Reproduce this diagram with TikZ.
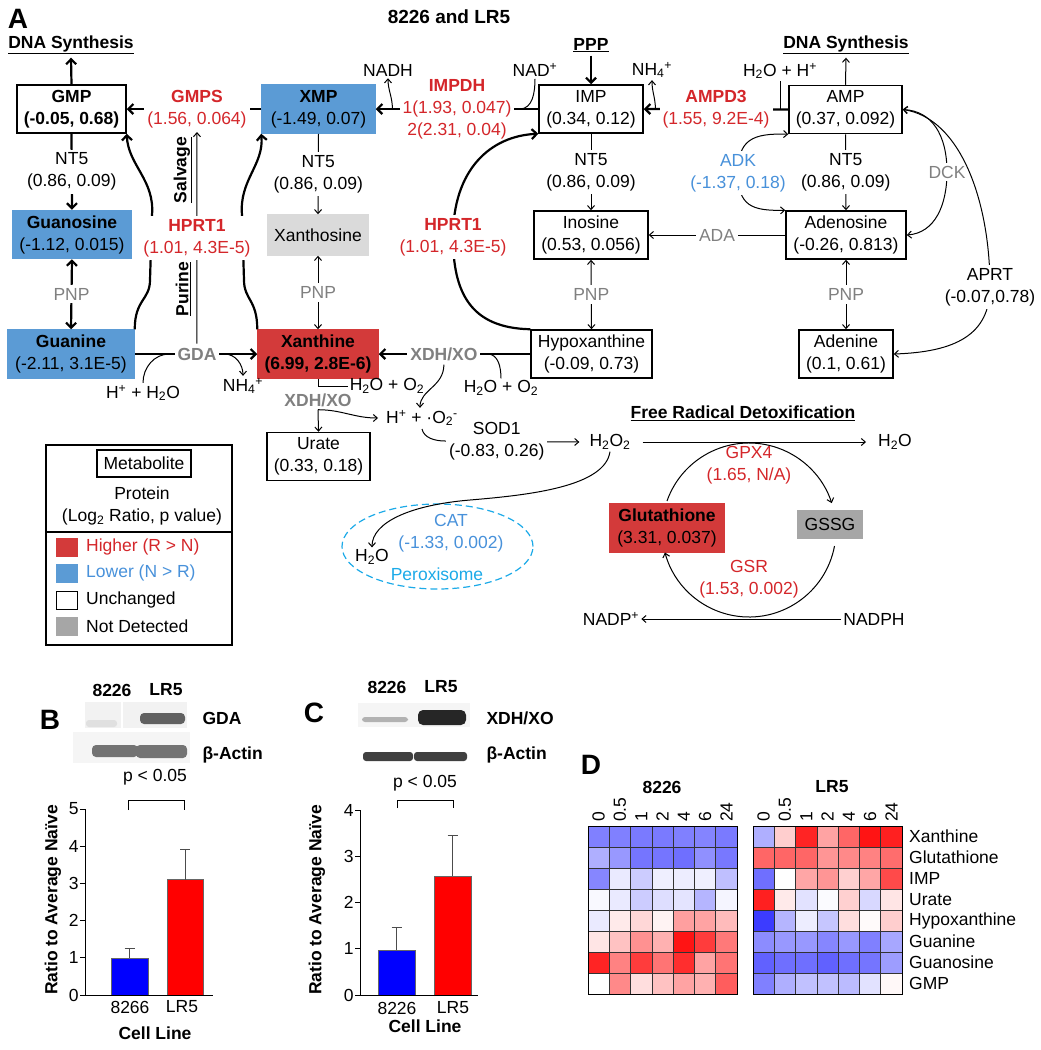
\documentclass[tikz,border=0pt]{standalone}
\usepackage{fontspec}
\setmainfont{Liberation Sans}
\usetikzlibrary{arrows.meta}

\definecolor{loblue}{RGB}{91,155,213}
\definecolor{hired}{RGB}{211,58,58}
\definecolor{upred}{RGB}{212,38,42}
\definecolor{dnblue}{RGB}{72,145,218}
\definecolor{grtext}{RGB}{128,128,128}
\definecolor{ndlight}{RGB}{218,218,218}
\definecolor{ndgray}{RGB}{166,166,166}
\definecolor{perox}{RGB}{28,170,232}
\definecolor{hmblue}{RGB}{60,60,255}
\definecolor{hmred}{RGB}{255,20,20}

\newcommand{\mainsize}{\fontsize{17.5}{22}\selectfont}
\newcommand{\panelsize}{\fontsize{28}{30}\selectfont}

\tikzset{
  met/.style={draw, line width=1.5pt, fill=white, align=center, minimum height=48, inner sep=2pt},
  hibox/.style={met, fill=hired, draw=hired},
  lobox/.style={met, fill=loblue, draw=loblue},
  ndbox/.style={met, fill=ndlight, draw=ndlight},
  enz/.style={fill=white, align=center, inner sep=3pt},
  upenz/.style={enz, text=upred},
  dnenz/.style={enz, text=dnblue},
  grenz/.style={enz, text=grtext},
  chem/.style={inner sep=2pt},
  hdr/.style={font=\mainsize\bfseries},
  thk/.style={line width=2.2pt, -{Straight Barb[length=5pt,width=10pt]}},
  thkboth/.style={line width=2.2pt, {Straight Barb[length=5pt,width=10pt]}-{Straight Barb[length=5pt,width=10pt]}},
  thn/.style={line width=1pt, -{Straight Barb[length=4pt,width=7pt]}},
  thnboth/.style={line width=1pt, {Straight Barb[length=4pt,width=7pt]}-{Straight Barb[length=4pt,width=7pt]}},
  thnl/.style={line width=1pt},
}

\begin{document}
\begin{tikzpicture}[x=1pt, y=-1pt, font=\mainsize]
    \useasboundingbox (0,0) rectangle (1041,1050);
    % headings
    \node[font=\panelsize\bfseries] (lblA) at (18,19) {A};
    \node[font=\fontsize{19}{22}\selectfont\bfseries] (ttl) at (449,17) {8226 and LR5};
    \node[hdr] (dnaL) at (71,45) {\underline{DNA Synthesis}};
    \node[hdr] (ppp) at (591,45) {\underline{PPP}};
    \node[hdr] (dnaR) at (846,45) {\underline{DNA Synthesis}};
    \node[hdr, rotate=90] (salv) at (183,170) {\underline{Salvage}};
    \node[hdr, rotate=90] (pur) at (183,289) {\underline{Purine}};
    \node[hdr] (frd) at (743,413) {\underline{Free Radical Detoxification}};
    % metabolites
    \node[met, minimum width=109] (gmp) at (71.5,109) {\textbf{GMP}\\\textbf{(-0.05, 0.68)}};
    \node[lobox, minimum width=113] (xmp) at (318.5,109) {\textbf{XMP}\\(-1.49, 0.07)};
    \node[met, minimum width=104] (imp) at (591,109) {IMP\\(0.34, 0.12)};
    \node[met, minimum width=113] (amp) at (845.5,109.5) {AMP\\(0.37, 0.092)};
    \node[lobox, minimum width=118] (guanosine) at (72,234.5) {\textbf{Guanosine}\\(-1.12, 0.015)};
    \node[ndbox, minimum width=100, minimum height=40] (xanthosine) at (318,235) {Xanthosine};
    \node[met, minimum width=114] (inosine) at (591,235) {Inosine\\(0.53, 0.056)};
    \node[met, minimum width=120] (adenosine) at (846,235) {Adenosine\\(-0.26, 0.813)};
    \node[lobox, minimum width=126] (guanine) at (71,354) {\textbf{Guanine}\\(-2.11, 3.1E-5)};
    \node[hibox, minimum width=120] (xanthine) at (318,354) {\textbf{Xanthine}\\\textbf{(6.99, 2.8E-6)}};
    \node[met, minimum width=121] (hypox) at (591.5,354) {Hypoxanthine\\(-0.09, 0.73)};
    \node[met, minimum width=94] (adenine) at (846,354) {Adenine\\(0.1, 0.61)};
    \node[met, minimum width=103] (urate) at (318.5,456.5) {Urate\\(0.33, 0.18)};
    \node[hibox, minimum width=114] (glut) at (667,528) {\textbf{Glutathione}\\(3.31, 0.037)};
    \node[met, fill=ndgray, draw=ndgray, minimum width=64, minimum height=27] (gssg) at (830,524.5) {GSSG};
    % small species
    \node[chem] (nadh) at (388,70) {NADH};
    \node[chem] (nad) at (535,70) {NAD\textsuperscript{+}};
    \node[chem] (nh4) at (652,70) {NH\textsubscript{4}\textsuperscript{+}};
    \node[chem] (h2oh) at (780,71) {H\textsubscript{2}O + H\textsuperscript{+}};
    \node[chem] (hplus) at (143,393) {H\textsuperscript{+} + H\textsubscript{2}O};
    \node[chem] (nh4b) at (243,386) {NH\textsubscript{4}\textsuperscript{+}};
    \node[chem] (h2oo2L) at (387,386) {H\textsubscript{2}O + O\textsubscript{2}};
    \node[chem] (h2oo2R) at (501,388) {H\textsubscript{2}O + O\textsubscript{2}};
    \node[chem] (h2o2) at (610,442) {H\textsubscript{2}O\textsubscript{2}};
    \node[chem] (h2oR) at (895,442) {H\textsubscript{2}O};
    \node[chem] (nadp) at (611,619) {NADP\textsuperscript{+}};
    \node[chem] (nadph) at (874,619) {NADPH};
    \node[chem] (pw) at (372,557) {H\textsubscript{2}O};
    \node[text=dnblue, align=center] (cat) at (451,533.5) {CAT\\(-1.33, 0.002)};
    \node[text=perox] (perlbl) at (437,574) {Peroxisome};
    \draw[perox, dash pattern=on 7pt off 4pt, line width=1.2pt] (437.5,546.5) ellipse [x radius=95.5pt, y radius=42.5pt];
    % salvage side
    \draw[thk] (xmp.west) -- node[upenz, pos=0.478] (gmps) {\textbf{GMPS}\\(1.56, 0.064)} (gmp.east);
    \draw[thk] (gmp.north) -- (dnaL.south);
    \draw[thk] (gmp.south) -- node[enz] (nt5a) {NT5\\(0.86, 0.09)} (guanosine.north);
    \draw[thkboth] (guanosine.south) -- node[grenz] (pnpa) {PNP} (guanine.north);
    \draw[thk] (guanine.east) -- node[grenz, pos=0.508, font=\mainsize\bfseries] (gda) {GDA} (xanthine.west);
    \draw[thnl] (hplus.north) to[out=90, in=180] ([xshift=-4pt]gda.west);
    \draw[thn] ([xshift=4pt]gda.east) to[out=0, in=90] (nh4b.north);
    \draw[thk] (guanine.north east) .. controls +(0,-30) and +(0,20) .. (150,280) -- (152,215) .. controls (155,180) and (128,165) .. (gmp.south east);
    \draw[thk] (xanthine.north west) .. controls +(0,-30) and +(0,20) .. (244,280) -- (242,215) .. controls (239,180) and (264,165) .. (xmp.south west);
    \draw[thn] (gda.north) -- node[upenz] (hprt1a) {\textbf{HPRT1}\\(1.01, 4.3E-5)} (gmps.south);
    \draw[thn] (xmp.south) -- node[enz] (nt5b) {NT5\\(0.86, 0.09)} (xanthosine.north);
    \draw[thnboth] (xanthosine.south) -- node[grenz] (pnpb) {PNP} (xanthine.north);
    % IMP / AMP side
    \draw[thk] (imp.west) -- node[upenz] (impdh) {\textbf{IMPDH}\\1(1.93, 0.047)\\2(2.31, 0.04)} (xmp.east);
    \draw[thnl] (nad.south) to[out=-90, in=0] ([xshift=4pt]impdh.east);
    \draw[thn] ([xshift=-6pt]impdh.west) .. controls +(0,-12) and +(0,12) .. (nadh.south);
    \draw[thk] (ppp.south) -- (imp.north);
    \draw[thn] (imp.south) -- node[enz] (nt5c) {NT5\\(0.86, 0.09)} (inosine.north);
    \draw[thnboth] (inosine.south) -- node[grenz] (pnpc) {PNP} (hypox.north);
    \draw[thk] (amp.west) -- node[upenz] (ampd3) {\textbf{AMPD3}\\(1.55, 9.2E-4)} (imp.east);
    \draw[thnl] (h2oh.south) |- (amp.west);
    \draw[thn] ([xshift=-3pt]ampd3.west) .. controls +(0,-12) and +(0,12) .. (nh4.south);
    \draw[thn] (amp.north) -- (dnaR.south);
    \draw[thn] (amp.south) -- node[enz] (nt5d) {NT5\\(0.86, 0.09)} (adenosine.north);
    \draw[thnboth] (adenosine.south) -- node[grenz] (pnpd) {PNP} (adenine.north);
    \draw[thn] (adenosine.west) -- node[grenz] (ada) {ADA} (inosine.east);
    \draw[thnboth] (amp.south west) .. controls (752,133) and (738,140) .. (738,173) node[dnenz] (adk) {ADK\\(-1.37, 0.18)} .. controls (738,206) and (752,211) .. (adenosine.north west);
    \draw[thnboth] (adenosine.east) .. controls (935,233) and (947,205) .. (947,172) node[grenz] (dck) {DCK} .. controls (947,135) and (932,111) .. (amp.east);
    \draw[thnboth] (adenine.east) .. controls (955,352) and (990,335) .. (990,287) node[enz] (aprt) {APRT\\(-0.07,0.78)} .. controls (990,200) and (960,118) .. (amp.east);
    \draw[thk] (hypox.north west) .. controls (470,328) and (453,292) .. (453,237) node[upenz] (hprt1b) {\textbf{HPRT1}\\(1.01, 4.3E-5)} .. controls (453,170) and (490,136) .. (imp.south west);
    % xanthine oxidation
    \coordinate (sodst) at (422,429);
    \draw[thn] (sodst) .. controls +(2,9) and +(-10,0) .. (445,441) -- node[enz, pos=0.385] (sod1) {SOD1\\(-0.83, 0.26)} ([xshift=-8pt]h2o2.west);
    \node[chem] (sup) at (422,418) {H\textsuperscript{+} + ·O\textsubscript{2}\textsuperscript{-}};
    \draw[thk] (hypox.west) -- node[grenz, pos=0.57, font=\mainsize\bfseries] (xdh1) {XDH/XO} (xanthine.east);
    \draw[thnl] (h2oo2R.north) to[out=90, in=0] ([xshift=6pt]xdh1.east);
    \draw[thn] (xdh1.south) .. controls +(0,22) and +(0,-18) .. ([xshift=-2pt]sup.north);
    \node[grenz, fill=none, font=\mainsize\bfseries] (xdh2) at (318,400) {XDH/XO};
    \draw[thnl] (xanthine.south) |- (h2oo2L.west);
    \draw[thn] (xdh2.south) -- (urate.north);
    \draw[thn] (xdh2.south) to[out=0, in=180] ([xshift=-6pt]sup.west);
    % free radical detoxification
    \draw[thn, shorten <=10pt, shorten >=10pt] (h2o2.east) -- (h2oR.west);
    \coordinate (cyc) at (749,530);
    \draw[thn] ([shift={(160.5:87pt)}]cyc) arc[start angle=160.5, end angle=18, radius=87pt];
    \draw[thn] ([shift={(-10.6:87pt)}]cyc) arc[start angle=-10.6, end angle=-165, radius=87pt];
    \node[upenz, fill=none] (gpx4) at (749,465) {GPX4\\(1.65, N/A)};
    \node[upenz, fill=none] (gsr) at (749,579) {GSR\\(1.53, 0.002)};
    \draw[thn] (nadph.west) -- (nadp.east);
    \draw[thn] (h2o2.south) .. controls +(-5,35) and +(60,-5) .. (470,500) .. controls +(-60,5) and +(0,-25) .. (pw.north);
    % legend
    \draw[line width=1.2pt] (46,445) rectangle (232,645);
    \draw[line width=1.2pt] (46,532) -- (232,532);
    \node[draw, line width=1.2pt, minimum width=94, minimum height=27, inner sep=2pt] (legmet) at (144,463.5) {Metabolite};
    \node (legprot) at (142,493) {Protein};
    \node (leglog) at (142,517) {(Log\textsubscript{2} Ratio, p value)};
    \foreach \sw/\bd/\tc/\t/\y in {hired/hired/upred/{Higher (R > N)}/547, loblue/loblue/dnblue/{Lower (N > R)}/573, white/black/black/Unchanged/600, ndgray/ndgray/black/{Not Detected}/626}{
      \draw[fill=\sw, draw=\bd, line width=1pt] (56,{\y-9}) rectangle (77,{\y+9});
      \node[anchor=west, text=\tc, inner sep=2pt] (leg\y) at (84,\y) {\t};
    }
    % panel B
    \node[font=\panelsize\bfseries] (lblB) at (50,720) {B};
    \node[hdr] (b8226) at (112,690) {8226};
    \node[hdr] (blr5) at (166,690) {LR5};
    \fill[black!5] (85,702) rectangle (187,728);
    \fill[white] (121,702) rectangle (123,728);
    \fill[black!12, rounded corners=3pt] (86,720) rectangle (117,727);
    \fill[black!62, rounded corners=4pt] (140,713) rectangle (185,724);
    \node[hdr, anchor=west] (bgda) at (199,718) {GDA};
    \fill[black!4] (73,732) rectangle (190,763);
    \fill[black!55, rounded corners=4pt] (92,745) rectangle (138,757);
    \fill[black!55, rounded corners=4pt] (136,745) rectangle (187,758);
    \node[hdr, anchor=west] (bact) at (199,755) {β-Actin};
    \node (bp) at (155,777) {p < 0.05};
    \draw[thnl] (128,810) -- (128,800) -- (184,800) -- (184,810);
    \draw[fill=blue, draw=black!60] (111,995) rectangle (148,{995-37.2*1.0});
    \draw[fill=red, draw=black!60] (167,995) rectangle (203,{995-37.2*3.1});
    \draw[black!70, line width=1pt] (129.5,{995-37.2*1.0}) -- (129.5,{995-37.2*1.24}) ++(-5,0) -- ++(10,0);
    \draw[black!70, line width=1pt] (185,{995-37.2*3.1}) -- (185,{995-37.2*3.9}) ++(-5,0) -- ++(10,0);
    \draw[line width=1pt] (85,809) -- (85,995) -- (213,995);
    \foreach \v in {0,...,5}
    \draw[line width=1pt] (85,{995-37.2*\v}) -- (80,{995-37.2*\v}) node[left, inner sep=1pt] (bt\v) {\v};
    \node (bx1) at (130,1007) {8266};
    \node (bx2) at (182,1007) {LR5};
    \node[hdr] (bxl) at (155,1033) {Cell Line};
    \node[hdr, rotate=90] (byl) at (53,900) {Ratio to Average Naïve};
    % panel C
    \node[font=\panelsize\bfseries] (lblC) at (314,713) {C};
    \node[hdr] (c8226) at (387,687) {8226};
    \node[hdr] (clr5) at (441,687) {LR5};
    \fill[black!4] (358,703) rectangle (470,727);
    \fill[black!30, rounded corners=3pt] (362,717) rectangle (408,722);
    \fill[black!85, rounded corners=5pt] (418,710) rectangle (466,725);
    \node[hdr, anchor=west] (cxdh) at (483,718) {XDH/XO};
    \fill[black!75, rounded corners=3pt] (363,752) rectangle (413,761);
    \fill[black!75, rounded corners=3pt] (414,752) rectangle (467,761);
    \node[hdr, anchor=west] (cact) at (483,755) {β-Actin};
    \node (cp) at (425,783) {p < 0.05};
    \draw[thnl] (397,808) -- (397,800) -- (453,800) -- (453,808);
    \draw[fill=blue, draw=black!60] (378,995) rectangle (415,{995-46.25*0.97});
    \draw[fill=red, draw=black!60] (434,995) rectangle (471,{995-46.25*2.57});
    \draw[black!70, line width=1pt] (396.5,{995-46.25*0.97}) -- (396.5,{995-46.25*1.45}) ++(-5,0) -- ++(10,0);
    \draw[black!70, line width=1pt] (452.5,{995-46.25*2.57}) -- (452.5,{995-46.25*3.45}) ++(-5,0) -- ++(10,0);
    \draw[line width=1pt] (360,810) -- (360,995) -- (478,995);
    \foreach \v in {0,...,4}
    \draw[line width=1pt] (360,{995-46.25*\v}) -- (355,{995-46.25*\v}) node[left, inner sep=1pt] (ct\v) {\v};
    \node (cx1) at (397,1008) {8226};
    \node (cx2) at (453,1008) {LR5};
    \node[hdr] (cxl) at (425,1026) {Cell Line};
    \node[hdr, rotate=90] (cyl) at (317,900) {Ratio to Average Naïve};
    % panel D
    \node[font=\panelsize\bfseries] (lblD) at (591,765) {D};
    \node[hdr] (d8226) at (662,787) {8226};
    \node[hdr] (dlr5) at (832,787) {LR5};
    \foreach \vals [count=\r] in {
      {-55,-55,-57,-57,-55,-53,-57,-35,18,78,33,55,95,80},
      {-35,-45,-60,-60,-62,-48,-58,55,55,55,38,42,45,52},
      {-52,-10,-22,-7,-8,-7,-28,-62,0,32,38,17,32,65},
      {-3,-10,-22,-15,-12,-32,-5,80,8,-13,-2,17,-17,10},
      {-10,8,15,5,35,33,25,-85,-32,-8,-25,12,2,18},
      {10,22,40,28,90,70,48,-50,-45,-45,-52,-45,-55,-38},
      {78,45,70,50,75,33,50,-68,-62,-62,-68,-62,-60,-42},
      {0,42,12,22,33,28,58,-55,-35,-27,-27,-30,-13,3}}{
      \foreach \v [count=\c] in \vals {
        \pgfmathsetmacro\cx{\c<8 ? 588+(\c-1)*21.3 : 753+(\c-8)*21.3}
        \pgfmathtruncatemacro\a{min(100,abs(\v)*1.2)}
        \ifnum\v<0 \def\hue{hmblue}\else\def\hue{hmred}\fi
        \draw[line width=0.8pt, draw=black!80, fill=\hue!\a!white] (\cx,{826+(\r-1)*21}) rectangle ++(21.3,21);
      }
    }
    \foreach \hx in {588,753}{
      \draw[line width=1pt] (\hx,826) rectangle ++(149.1,168);
      \foreach \t [count=\c] in {0,0.5,1,2,4,6,24}
      \node[rotate=90, anchor=west, inner sep=1pt] (col\hx-\c) at ({\hx+(\c-0.5)*21.3},823) {\t};
    }
    \foreach \t [count=\r] in {Xanthine,Glutathione,IMP,Urate,Hypoxanthine,Guanine,Guanosine,GMP}
    \node[anchor=west, inner sep=1pt] (row\r) at (908,{826+(\r-0.5)*21}) {\t};
\end{tikzpicture}
\end{document}
